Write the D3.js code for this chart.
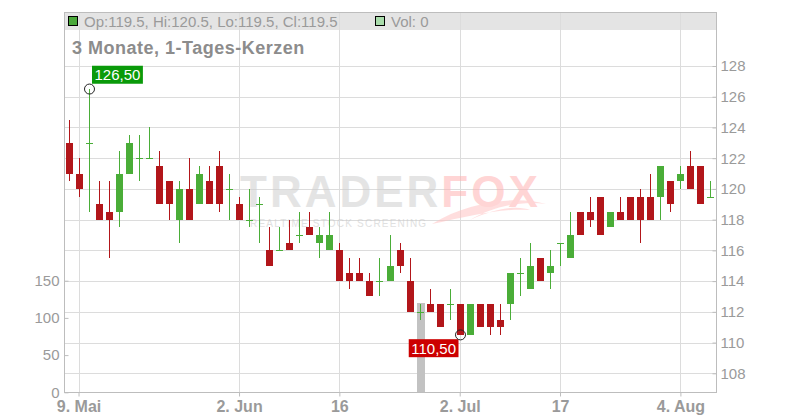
<!DOCTYPE html>
<html><head><meta charset="utf-8">
<script src="https://cdn.jsdelivr.net/npm/d3@7"></script>
<style>
body{margin:0;background:#fff;}
svg{display:block;font-family:"Liberation Sans",Arial,sans-serif;}
</style></head>
<body><svg id="c" width="800" height="420"></svg>
<script>
const dates = ["2025-05-08","2025-05-09","2025-05-12","2025-05-13","2025-05-14","2025-05-15","2025-05-16",
"2025-05-19","2025-05-20","2025-05-21","2025-05-22","2025-05-23","2025-05-26","2025-05-27","2025-05-28","2025-05-29","2025-05-30",
"2025-06-02","2025-06-03","2025-06-04","2025-06-05","2025-06-06","2025-06-09","2025-06-10","2025-06-11","2025-06-12","2025-06-13",
"2025-06-16","2025-06-17","2025-06-18","2025-06-19","2025-06-20","2025-06-23","2025-06-24","2025-06-25","2025-06-26","2025-06-27",
"2025-06-30","2025-07-01","2025-07-02","2025-07-03","2025-07-07","2025-07-08","2025-07-09","2025-07-10","2025-07-11",
"2025-07-14","2025-07-15","2025-07-16","2025-07-17","2025-07-18","2025-07-21","2025-07-22","2025-07-23","2025-07-24","2025-07-25",
"2025-07-28","2025-07-29","2025-07-30","2025-07-31","2025-08-01","2025-08-04","2025-08-05","2025-08-06","2025-08-07"];
const open  = [123,121,123,119,118.5,118.5,121,122,122,121.5,120.5,118,120,119,120.5,121.5,120,
119,118,119,116,116,116.5,117,117.5,116.5,116,116,114.5,114.5,114,114,114,116,114,112,112.5,112.5,112.5,112.5,110.5,
112.5,112.5,111.5,112.5,114.5,113.5,115.5,114.5,116.5,115.5,118.5,118.5,119.5,117.5,118.5,119.5,119.5,119.5,119.5,120.5,120.5,121.5,121.5,119.5];
const high  = [124.5,122,126.5,120.5,120.5,122.5,123.5,123.5,124,122.5,120.5,120.5,122,121.5,121.5,122.5,121,
119.5,120,119.5,117.5,117.5,118,118.5,118.5,117.5,118.5,116.5,115.5,115.5,114.5,115.5,117,116.5,115.5,112.5,113.5,112.5,113.5,112.5,112.5,
112.5,112.5,112.5,114.5,115.5,116.5,115.5,116,116.5,118.5,118.5,119.5,119.5,118.5,119.5,119.5,120,121,121.5,120.5,121.5,122.5,121.5,120.5];
const low   = [120.5,119.5,118.5,118,115.5,117.5,121,120.5,122,119,118,116.5,118,119,119,118.5,118,
118,117.5,116.5,115,116,116,116.5,117,115.5,116,114,113.5,114,113,113,114,114.5,112,111.5,112,111,111.5,110.5,110.5,
111,110.5,110.5,111.5,113,113.5,114,113.5,115,115.5,117,117.5,117,117.5,118,118,116.5,118,118,118.5,120,120,119,119.5];
const close = [121,120,123,118,118,121,123,122,122,119,119,120,118,121,119,119,120,
118,118,119,115,116,116,117,117,117,117,114,114,114,113,114,115,115,112,112,112,111,112.5,110.5,112.5,
111,111,111,114.5,114.5,115,114,115,116.5,117,117,118,117,118.5,118,118,118,118,121.5,119,121,120,119,119.5];
const volume = [0,0,0,0,0,0,0,0,0,0,0,0,0,0,0,0,0,0,0,0,0,0,0,0,0,0,0,0,0,0,0,0,0,0,0,120,0,0,0,0,0,
0,0,0,0,0,0,0,0,0,0,0,0,0,0,0,0,0,0,0,0,0,0,0,0];
const xTickDates  = ["2025-05-09","2025-06-02","2025-06-16","2025-07-02","2025-07-17","2025-08-04"];
const xTickLabels = ["9. Mai","2. Jun","16","2. Jul","17","4. Aug"];
const priceTicks = [108,110,112,114,116,118,120,122,124,126,128];
const volTicks = [0,50,100,150];
const titleText = "3 Monate, 1-Tages-Kerzen";

const L=64, R=716, T=12, B=392.5;
const UP="#4aad38", DOWN="#b2161a", GRID="#dcdcdc", AXIS="#bdbdbd", TXT="#9a9a9a";
const svg = d3.select("#c");
svg.append("rect").attr("width",800).attr("height",420).attr("fill","#fff");

const x = d3.scaleBand().domain(dates).range([L,R]).paddingInner(0.3).paddingOuter(0.15);
const y = d3.scaleLinear().domain([108,128]).range([373.3,66]);
const yv = d3.scaleLinear().domain([0,150]).range([392.3,280.7]);
const bw = 7;
const cx = d => Math.round(x(d) + x.bandwidth()/2 - bw/2); // body left pixel

// header band
svg.append("rect").attr("x",L).attr("y",T).attr("width",R-L).attr("height",18).attr("fill","#e4e4e4");

// gridlines
svg.append("g").selectAll("line").data(priceTicks).join("line")
  .attr("x1",L).attr("x2",R).attr("y1",d=>Math.round(y(d))+0.5).attr("y2",d=>Math.round(y(d))+0.5)
  .attr("stroke",GRID);
svg.append("g").selectAll("line").data(xTickDates).join("line")
  .attr("x1",d=>cx(d)+3.5).attr("x2",d=>cx(d)+3.5).attr("y1",T).attr("y2",B)
  .attr("stroke",GRID);

// watermark
const wm = svg.append("g").attr("opacity",0.55);
wm.append("path").attr("d","M432,224 C470,200 520,196 546,204 C520,200 490,208 470,220 C500,206 520,206 530,210 C500,208 470,216 432,224 Z")
  .attr("fill","#ffc4c4");
const wt = wm.append("text").attr("x",240).attr("y",207).attr("font-size",44).attr("font-weight","bold").attr("letter-spacing",3);
wt.append("tspan").attr("fill","#cfcfcf").text("TRADER");
wt.append("tspan").attr("fill","#ffb3b3").text("FOX");
wm.append("text").attr("x",250).attr("y",227).attr("font-size",10)
  .attr("letter-spacing",1.2).attr("fill","#c8c8c8").text("REALTIME STOCK SCREENING");

// volume bars
svg.append("g").selectAll("rect").data(dates.map((d,i)=>({d,v:volume[i]})).filter(o=>o.v>0)).join("rect")
  .attr("x",o=>cx(o.d)).attr("width",bw+1).attr("y",o=>Math.round(yv(o.v))).attr("height",o=>Math.round(yv(0))-Math.round(yv(o.v)))
  .attr("fill","#c2c2c2");

// candles
const data = dates.map((d,i)=>({d,o:open[i],h:high[i],l:low[i],c:close[i]}));
const g = svg.append("g");
data.forEach(k=>{
  const col = k.c>=k.o ? UP : DOWN;
  const xl = cx(k.d), xm = xl+3.5;
  g.append("line").attr("x1",xm).attr("x2",xm).attr("y1",Math.round(y(k.h))).attr("y2",Math.round(y(k.l)))
    .attr("stroke",col);
  if (k.o===k.c){
    const yy=Math.round(y(k.o))+0.5;
    g.append("line").attr("x1",xl).attr("x2",xl+bw).attr("y1",yy).attr("y2",yy).attr("stroke",col);
  } else {
    const t=Math.round(y(Math.max(k.o,k.c))), b=Math.round(y(Math.min(k.o,k.c)));
    g.append("rect").attr("x",xl).attr("y",t).attr("width",bw).attr("height",b-t).attr("fill",col);
  }
});

// frame
const fr = svg.append("g").attr("stroke",AXIS).attr("fill","none");
fr.append("line").attr("x1",L+0.5).attr("x2",L+0.5).attr("y1",T).attr("y2",B);
fr.append("line").attr("x1",R+0.5).attr("x2",R+0.5).attr("y1",T).attr("y2",B);
fr.append("line").attr("x1",L).attr("x2",R+1).attr("y1",T+0.5).attr("y2",T+0.5);
fr.append("line").attr("x1",L).attr("x2",R+1).attr("y1",B).attr("y2",B);

// axes
function styleAxis(sel){
  sel.select(".domain").remove();
  sel.selectAll(".tick line").attr("stroke",AXIS);
  sel.selectAll(".tick text").attr("fill",TXT);
}
svg.append("g").attr("transform",`translate(${R+0.5},0)`)
  .call(d3.axisRight(y).tickValues(priceTicks).tickSize(-4).tickPadding(4))
  .call(styleAxis).attr("font-size",15).attr("font-family",null);
svg.append("g").attr("transform",`translate(${L+0.5},0)`)
  .call(d3.axisLeft(yv).tickValues(volTicks).tickSize(-4).tickPadding(5))
  .call(styleAxis).attr("font-size",15).attr("font-family",null);
const lab = new Map(xTickDates.map((d,i)=>[d,xTickLabels[i]]));
svg.append("g").attr("transform",`translate(0,${B})`)
  .call(d3.axisBottom(x).tickValues(xTickDates).tickFormat(d=>lab.get(d)).tickSize(4).tickPadding(4))
  .call(styleAxis).attr("font-size",16).attr("font-weight","bold").attr("font-family",null);

// legend
const last = data[data.length-1];
svg.append("rect").attr("x",68.5).attr("y",16.5).attr("width",9).attr("height",9).attr("fill","#4aa83a").attr("stroke","#000");
svg.append("text").attr("x",84).attr("y",26.5).attr("font-size",15).attr("fill",TXT)
  .text(`Op:${last.o}, Hi:${last.h}, Lo:${last.l}, Cl:${last.c}`);
svg.append("rect").attr("x",375.5).attr("y",16.5).attr("width",9).attr("height",9).attr("fill","#a9dcab").attr("stroke","#000");
svg.append("text").attr("x",391).attr("y",26.5).attr("font-size",15).attr("fill",TXT)
  .text(`Vol: ${volume[volume.length-1]}`);

// title
svg.append("text").attr("x",72).attr("y",54).attr("font-size",18).attr("font-weight","bold")
  .attr("letter-spacing",0.5).attr("fill","#8c8c8c").text(titleText);

// high / low labels
const fmt = v => d3.format(".2f")(v).replace(".",",");
const iH = d3.maxIndex(high), iL = d3.minIndex(low);
function marker(i, val, color, pos){
  const px = cx(dates[i])+3.5, py = y(val);
  const gg = svg.append("g");
  const t = gg.append("text").attr("font-size",15).attr("fill","#fff").text(fmt(val));
  const w = t.node().getComputedTextLength()+5, h=18;
  let bx, by;
  if (pos==="tr"){ bx = px+2.5; by = py-5.3-h; } else { bx = px-2-w; by = py+4.3; }
  gg.insert("rect","text").attr("x",bx).attr("y",by).attr("width",w).attr("height",h).attr("fill",color);
  t.attr("x",bx+2.5).attr("y",by+14.5);
  svg.append("circle").attr("cx",px).attr("cy",py).attr("r",5).attr("fill","none").attr("stroke","#222");
}
marker(iH, high[iH], "#0a9a0a", "tr");
marker(iL, low[iL], "#cc0000", "bl");
</script></body></html>
